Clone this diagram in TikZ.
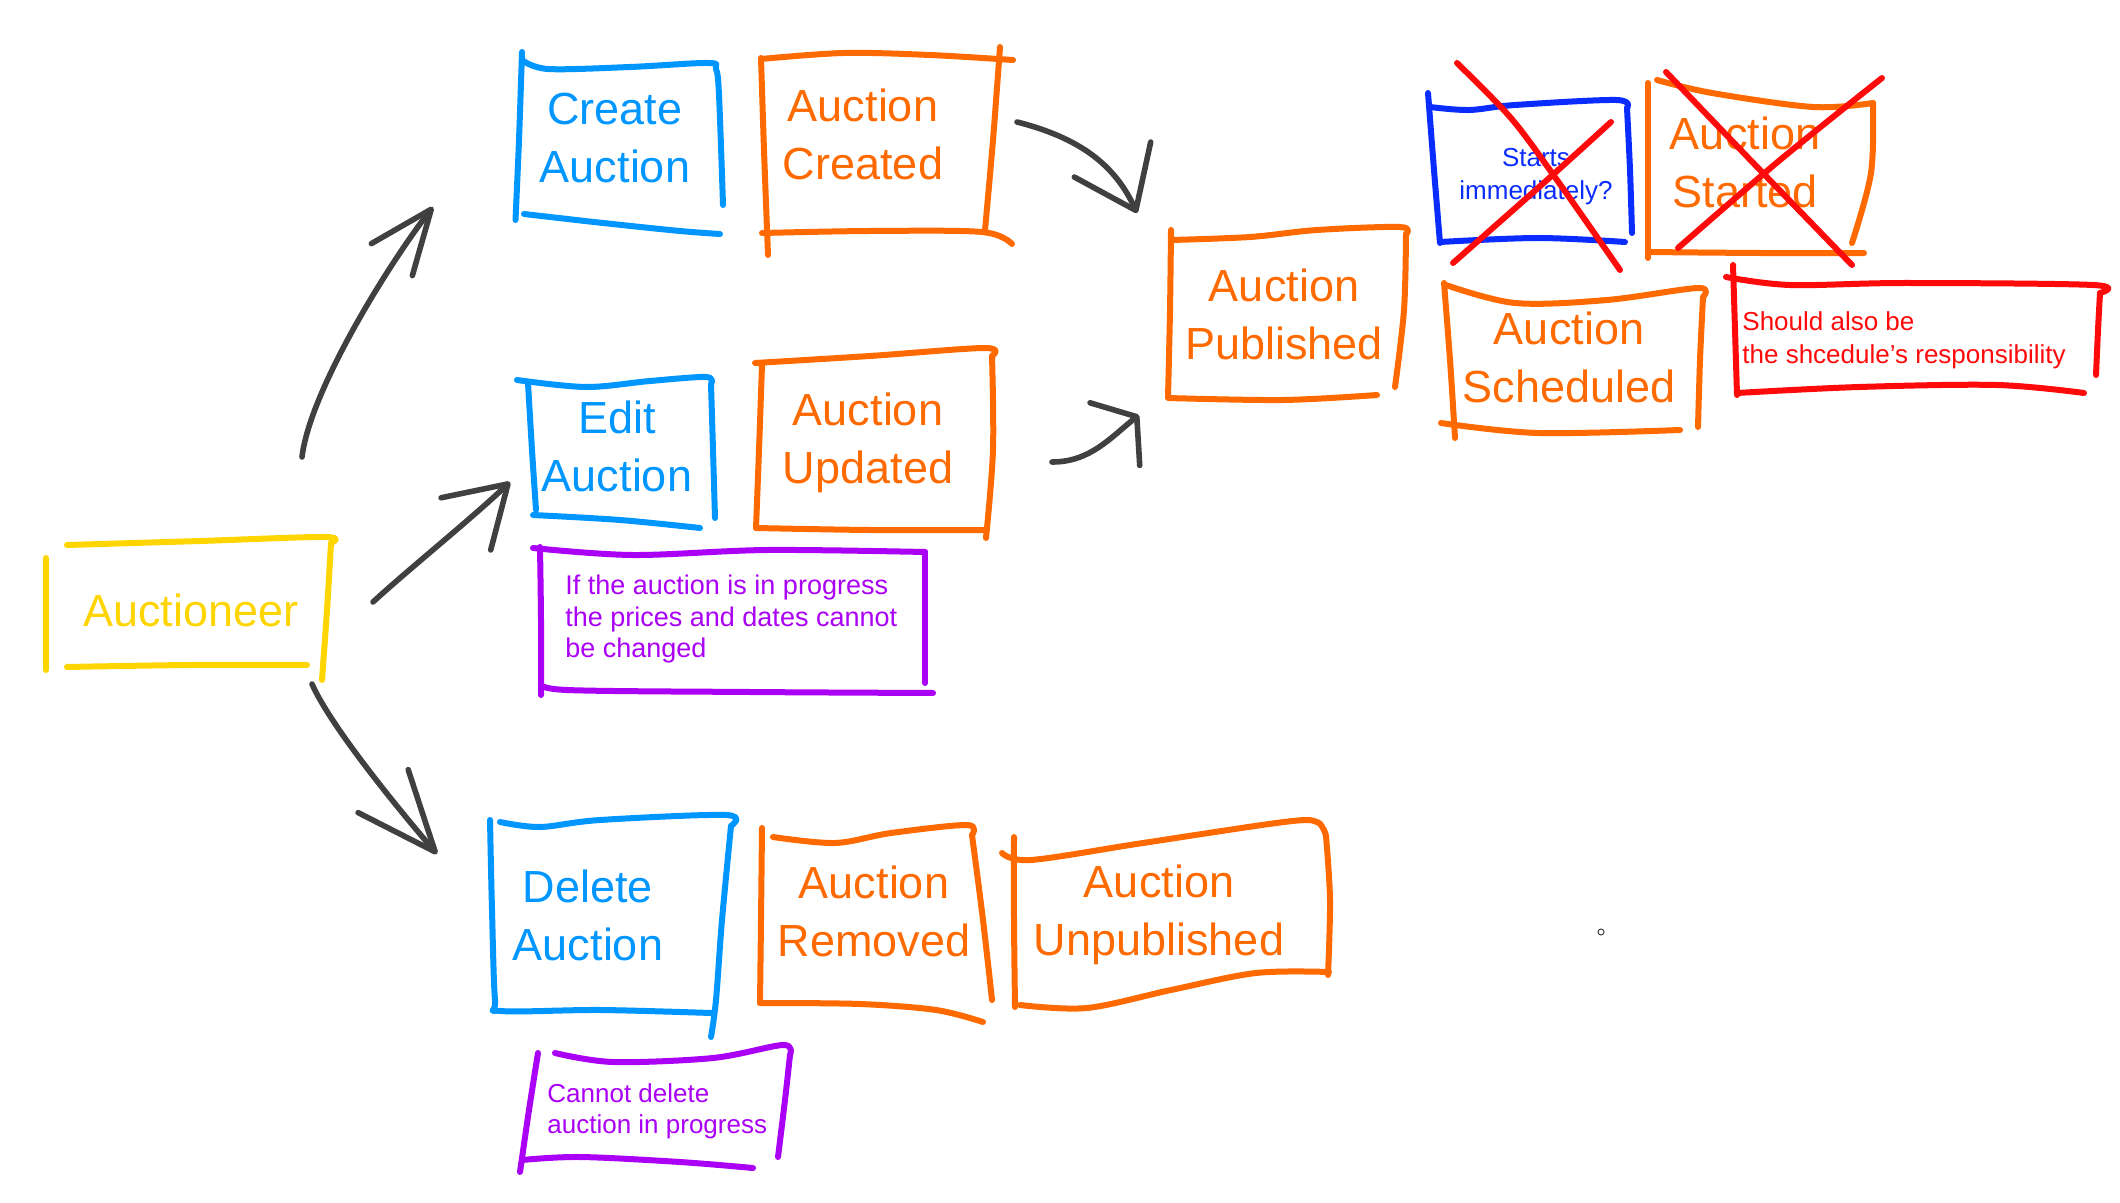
\documentclass[tikz,border=0pt]{standalone}
\usepackage{fontspec}
\setmainfont{Liberation Sans}
\usetikzlibrary{arrows.meta}
\definecolor{skyb}{HTML}{0096FF}
\definecolor{orng}{HTML}{FF6A00}
\definecolor{yell}{HTML}{FFD500}
\definecolor{purp}{HTML}{AA00F5}
\definecolor{dblu}{HTML}{0A2CFF}
\definecolor{redd}{HTML}{FF0A0A}
\definecolor{arrgray}{HTML}{404040}
\newcommand\stk[2]{\draw[sk,#1] plot[smooth,tension=0.55] coordinates {#2};}
\newcommand\dsc{\vphantom{p}}
\begin{document}
\begin{tikzpicture}[x=0.5pt,y=-0.5pt,
  sk/.style={line width=3pt,line cap=round,line join=round},
  lbl/.style={font=\fontsize{22.5}{29}\selectfont,align=center,inner sep=0pt},
  note/.style={font=\fontsize{13.5}{15.75}\selectfont,align=left,inner sep=0pt,anchor=north west},
  arr/.style={line width=2.8pt,line cap=round,line join=round,draw=arrgray}]
\fill[white] (0,0) rectangle (2120,1203);
\useasboundingbox (0,0) rectangle (2120,1203);

% ---------- nodes ----------
\node[lbl,text=yell,minimum width=140pt,minimum height=66pt] (auct) at (191,615) {Auctioneer\dsc};
\node[lbl,text=skyb,minimum width=102pt,minimum height=88pt] (create) at (615,142) {Create\\Auction\dsc};
\node[lbl,text=orng,minimum width=122pt,minimum height=98pt] (created) at (863,139) {Auction\\Created\dsc};
\node[lbl,text=skyb,minimum width=95pt,minimum height=70pt] (edit) at (617,451) {Edit\\Auction\dsc};
\node[lbl,text=orng,minimum width=115pt,minimum height=88pt] (updated) at (868,443) {Auction\\Updated\dsc};
\node[lbl,text=skyb,minimum width=118pt,minimum height=100pt] (delete) at (588,920) {Delete\\Auction\dsc};
\node[lbl,text=orng,minimum width=112pt,minimum height=92pt] (removed) at (874,916) {Auction\\Removed\dsc};
\node[lbl,text=orng,minimum width=160pt,minimum height=90pt] (unpub) at (1159,915) {Auction\\Unpublished\dsc};
\node[lbl,text=orng,minimum width=117pt,minimum height=84pt] (pub) at (1284,319) {Auction\\Published\dsc};
\node[lbl,text=orng,minimum width=110pt,minimum height=86pt] (started) at (1745,167) {Auction\\Started\dsc};
\node[lbl,text=orng,minimum width=127pt,minimum height=76pt] (sched) at (1569,362) {Auction\\Scheduled\dsc};
\node[font=\fontsize{13}{16.5}\selectfont,align=center,inner sep=0pt,text=dblu,minimum width=100pt,minimum height=70pt] (starts) at (1536,177) {Starts\\immediately?};
\node[note,text=purp] (note1) at (565,575) {If the auction is in progress\\the prices and dates cannot\\be changed};
\node[note,text=purp,font=\fontsize{13}{15.5}\selectfont] (note2) at (547,1083) {Cannot delete\\auction in progress};
\node[note,text=redd,font=\fontsize{13}{16.5}\selectfont] (rnote) at (1742,311) {Should also be\\the shcedule's responsibility};

% ---------- hand-drawn outlines ----------
% Auctioneer
\stk{yell}{(46,558) (46,614) (46,670)}
\stk{yell}{(67,545) (200,541) (325,537) (331,543)}
\stk{yell}{(331,543) (327,610) (322,680)}
\stk{yell}{(67,667) (190,665) (307,665)}
% Create Auction
\stk{skyb}{(522,52) (519,140) (515.5,220)}
\stk{skyb}{(522,60) (548,69) (630,67) (708,63) (716,69) (719,95) (723,205)}
\stk{skyb}{(524,214) (603,223) (680,231) (720,234)}
% Auction Created
\stk{orng}{(761,58) (764,150) (768,255)}
\stk{orng}{(761,59) (844,53) (930,55) (1013,60)}
\stk{orng}{(1000,47) (993,140) (985,230)}
\stk{orng}{(762,233) (870,231) (982,232) (1012,244)}
% Edit Auction
\stk{skyb}{(517,380) (586,387) (650,381) (706,377) (711,384)}
\stk{skyb}{(711,384) (713,450) (715,518)}
\stk{skyb}{(528,383) (532,450) (536,510)}
\stk{skyb}{(533,515) (620,520) (700,528)}
% Auction Updated
\stk{orng}{(755,363) (870,356) (985,348) (992,356)}
\stk{orng}{(992,356) (993,450) (986,538)}
\stk{orng}{(762,365) (759,450) (756,528)}
\stk{orng}{(756,528) (870,530) (987,530)}
% note 1
\stk{purp}{(533,548) (633,555) (767,550) (925,552)}
\stk{purp}{(540,547) (541,620) (541,695)}
\stk{purp}{(925,552) (925,620) (925,683)}
\stk{purp}{(541,683) (567,690) (750,692) (933,693)}
% Delete Auction
\stk{skyb}{(490,820) (492,910) (495,1000) (501,1011) (600,1010) (711,1013)}
\stk{skyb}{(500,822) (540,827) (600,820) (726,815) (731,826)}
\stk{skyb}{(731,826) (722,920) (716,1000) (711,1037)}
% note 2
\stk{purp}{(538,1053) (529,1110) (520,1172)}
\stk{purp}{(555,1053) (613,1062) (713,1058) (783,1045) (790,1055)}
\stk{purp}{(790,1055) (785,1100) (778,1157)}
\stk{purp}{(522,1160) (580,1157) (680,1162) (753,1168)}
% Auction Removed
\stk{orng}{(762,828) (761,920) (760,1003)}
\stk{orng}{(773,837) (835,843) (891,833) (967,825) (972,835)}
\stk{orng}{(972,835) (983,920) (992,1000)}
\stk{orng}{(760,1003) (860,1004) (936,1010) (983,1022)}
% Auction Unpublished
\stk{orng}{(1014,837) (1014,920) (1015,1007)}
\stk{orng}{(1002,853) (1031,860) (1143,843) (1284,822) (1317,822) (1326,836)}
\stk{orng}{(1326,836) (1330,900) (1328,975)}
\stk{orng}{(1329,972) (1256,973) (1171,990) (1087,1008) (1020,1005)}
% Auction Published
\stk{orng}{(1171,230) (1170,310) (1168,397)}
\stk{orng}{(1171,240) (1250,237) (1317,230) (1400,227) (1406,234)}
\stk{orng}{(1406,234) (1404,310) (1395,387)}
\stk{orng}{(1168,398) (1283,400) (1377,395)}
% Starts immediately?
\stk{dblu}{(1428,93) (1434,170) (1440,243)}
\stk{dblu}{(1430,107) (1469,110) (1515,105) (1616,100) (1627,108)}
\stk{dblu}{(1627,108) (1630,170) (1632,233)}
\stk{dblu}{(1440,242) (1538,238) (1625,242)}
% Auction Started
\stk{orng}{(1648,83) (1648,170) (1648,258)}
\stk{orng}{(1657,80) (1712,93) (1813,107) (1873,103)}
\stk{orng}{(1873,103) (1871,173) (1852,243)}
\stk{orng}{(1648,252) (1760,253) (1864,253)}
% Auction Scheduled
\stk{orng}{(1444,283) (1450,360) (1455,438)}
\stk{orng}{(1446,285) (1515,303) (1607,300) (1698,288) (1703,297)}
\stk{orng}{(1703,297) (1700,360) (1698,427)}
\stk{orng}{(1441,423) (1538,433) (1680,430)}
% red note
\stk{redd}{(1733,265) (1735,330) (1737,395)}
\stk{redd}{(1726,277) (1790,285) (1905,283) (2093,285) (2100,293)}
\stk{redd}{(2100,293) (2098,330) (2096,375)}
\stk{redd}{(1737,393) (1859,387) (1997,385) (2084,393)}

% red crosses
\stk{redd}{(1457,63) (1510,117) (1552,173) (1620,270)}
\stk{redd}{(1611,122) (1547,180) (1453,263)}
\stk{redd}{(1666,72) (1760,170) (1852,265)}
\stk{redd}{(1882,78) (1780,160) (1678,248)}

% ---------- connectors ----------
\coordinate (a1s) at (302,457); \coordinate (a1t) at (433,207);
\coordinate (a2s) at (373,602); \coordinate (a2t) at (510,482);
\coordinate (a3s) at (312,684); \coordinate (a3t) at (437,854);
\coordinate (a4s) at (1017,122); \coordinate (a4t) at (1137,213);
\coordinate (a5s) at (1052,462); \coordinate (a5t) at (1139,415);
\draw[arr,-{Straight Barb[length=32pt,width=26pt,round]}] (a1s) .. controls (310,390) and (390,262) .. (a1t);
\draw[arr,-{Straight Barb[length=29pt,width=36pt,round]}] (a2s) .. controls (410,568) and (470,520) .. (a2t);
\draw[arr,-{Straight Barb[length=40pt,width=33pt,round]}] (a3s) .. controls (330,725) and (395,805) .. (a3t);
\draw[arr,-{Straight Barb[length=28pt,width=42pt,round]}] (a4s) .. controls (1080,138) and (1115,165) .. (a4t);
\draw[arr,-{Straight Barb[length=14pt,width=40pt,round]}] (a5s) .. controls (1090,462) and (1110,438) .. (a5t);

% stray dot
\draw[arrgray,line width=0.5pt] (1601,932) circle[radius=3];
\end{tikzpicture}
\end{document}
